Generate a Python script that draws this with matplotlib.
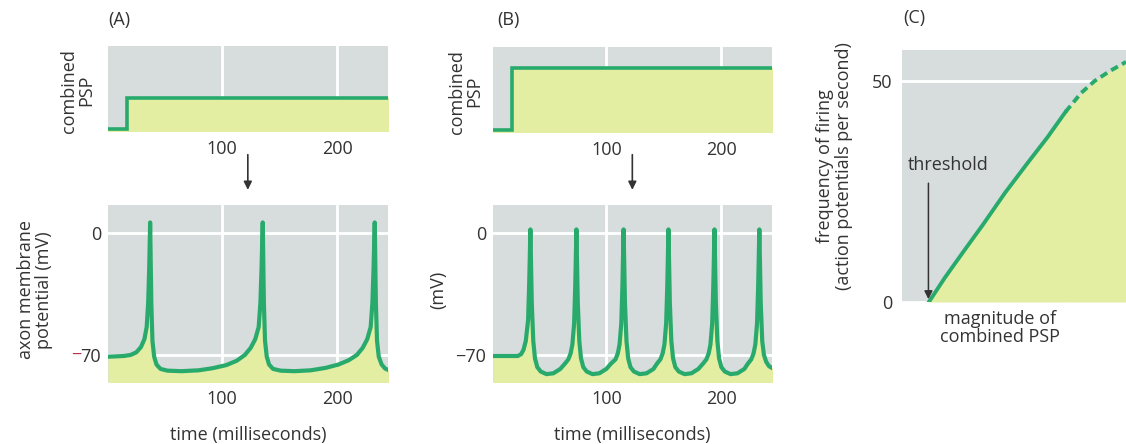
import matplotlib.pyplot as plt
from matplotlib import transforms

plt.rcParams['font.family'] = ['Open Sans', 'DejaVu Sans']

# combined PSP step (top panels)
psp_time = [1.5, 18, 18, 245]
psp_a = [0.03, 0.03, 0.40, 0.40]
psp_b = [0.03, 0.03, 0.76, 0.76]

# axon membrane potential, panel A (few spikes)
time_a = [1.5, 15, 21, 26, 30, 33, 35, 36.3, 37.2, 38, 39, 40, 41.5, 43.5, 47, 53, 65, 80,
          92, 104, 113, 120, 125, 129, 132, 133.5, 134.5, 135.5, 136.5, 137.5, 139, 141,
          144.5, 151, 163, 177, 190, 201, 210, 217, 222, 226, 229, 230.5, 231.5, 232.5,
          233.5, 234.5, 236, 238.5, 241.5, 245]
mv_a = [-71, -70.6, -70, -68.5, -65.5, -61, -54, -40, -20, 6, -40, -62, -71, -75.5, -78,
        -79, -79.3, -78.8, -77.6, -75.8, -73.3, -70, -66, -61, -54, -40, -20, 6, -40, -62,
        -71, -75.5, -78, -79, -79.3, -78.8, -77.4, -75.5, -73, -70, -66, -61, -54, -40, -20,
        6, -40, -62, -71, -75.5, -77.8, -78.8]

# axon membrane potential, panel B (more spikes)
time_b = [1.5, 23, 26, 28, 30, 32, 33, 34, 35.2, 36.5, 38, 40, 43, 48, 54, 60, 64,
          67, 69, 70.5, 72, 73, 74, 75.2, 76.5, 78, 80, 83, 88, 94, 100, 104,
          108, 110, 111.5, 113, 114, 115, 116.2, 117.5, 119, 121, 124, 129, 135, 141, 144,
          147, 149, 150.5, 152, 153, 154, 155.2, 156.5, 158, 160, 163, 168, 174, 180, 184,
          187, 189, 190.5, 192, 193, 194, 195.2, 196.5, 198, 200, 203, 208, 214, 220, 223,
          226, 228, 229.5, 231, 232, 233, 234.2, 235.5, 237, 239, 241.5, 245]
mv_b = [-70.6, -70.6, -69.5, -67, -62, -50, -28, 2, -40, -62, -72, -77, -79.5, -81, -80.5, -78, -75,
        -72.5, -69, -64, -52, -30, 2, -40, -62, -72, -77, -79.5, -81, -80.5, -78, -75,
        -72.5, -69, -64, -52, -30, 2, -40, -62, -72, -77, -79.5, -81, -80.5, -78, -75,
        -72.5, -69, -64, -52, -30, 2, -40, -62, -72, -77, -79.5, -81, -80.5, -78, -75,
        -72.5, -69, -64, -52, -30, 2, -40, -62, -72, -77, -79.5, -81, -80.5, -78, -75,
        -72.5, -69, -64, -52, -30, 2, -40, -62, -70, -74, -76.5, -77.8]

# firing frequency vs magnitude of combined PSP (panel C)
mag_solid = [12, 19, 27, 36, 46, 56, 65, 73]
freq_solid = [0, 5.4, 11.1, 17.4, 24.7, 31.4, 37.3, 43.0]
mag_dash = [73, 80, 86, 93, 100]
freq_dash = [43.0, 47.3, 50.0, 52.3, 54.3]

GREY = '#d7dcdc'
FILL = '#e3eea3'
GREEN = '#29aa6d'
TXT = '#333333'
FS = 13
W, H = 1126, 444

fig = plt.figure(figsize=(W / 100, H / 100), dpi=100)


def px_axes(x0, y0, x1, y1):
    ax = fig.add_axes([x0 / W, 1 - y1 / H, (x1 - x0) / W, (y1 - y0) / H])
    ax.set_facecolor(GREY)
    for s in ax.spines.values():
        s.set_visible(False)
    ax.tick_params(length=0, labelsize=FS, labelcolor=TXT)
    ax.set_axisbelow(True)
    return ax


def psp_panel(ax, level):
    ax.fill_between(psp_time, 0, level, color=FILL, zorder=1, lw=0)
    ax.plot(psp_time, level, color=GREEN, lw=2.6, zorder=2, solid_joinstyle='miter')
    ax.set_xlim(1.5, 244)
    ax.set_ylim(0, 1)
    ax.set_xticks([100, 200])
    ax.set_yticks([])
    ax.tick_params(axis='x', pad=6)
    ax.grid(axis='x', color='white', lw=2)
    ax.set_ylabel('combined\nPSP', fontsize=FS, color=TXT, linespacing=0.95)


def trace_panel(ax, t, v):
    ax.fill_between(t, -90, v, color=FILL, zorder=1, lw=0)
    ax.plot(t, v, color=GREEN, lw=3, zorder=2)
    ax.set_xlim(1.5, 244)
    ax.set_ylim(-85.5, 16)
    ax.set_xticks([100, 200])
    ax.set_yticks([-70, 0])
    ax.tick_params(axis='x', pad=6)
    ax.tick_params(axis='y', pad=5)
    ax.grid(color='white', lw=2)
    ax.set_xlabel('time (milliseconds)', fontsize=FS, color=TXT, labelpad=13)
    ax.annotate('', xy=(122.6, 1.07), xytext=(122.6, 1.30),
                xycoords=('data', 'axes fraction'),
                arrowprops=dict(arrowstyle='-|>', color=TXT, lw=1.2, mutation_scale=12),
                annotation_clip=False)


# panel A
ax1 = px_axes(108, 46, 388, 132)
psp_panel(ax1, psp_a)
ax1.yaxis.set_label_coords(-0.046, 0.48)
ax2 = px_axes(108, 205, 388, 382)
trace_panel(ax2, time_a, mv_a)
ax2.set_yticklabels(['70', '0'])
trans = transforms.blended_transform_factory(ax2.transAxes, ax2.transData)
ax2.text(-0.095, -70, '\u2212', transform=trans, color='#c0304a',
         fontsize=FS, ha='right', va='center')
ax2.set_ylabel('axon membrane\npotential (mV)', fontsize=FS, color=TXT, linespacing=1.0)
ax2.yaxis.set_label_coords(-0.195, 0.52)
fig.text(108 / W, 1 - 20 / H, '(A)', fontsize=FS, color=TXT, va='center')

# panel B
ax3 = px_axes(493, 47, 772, 133)
psp_panel(ax3, psp_b)
ax3.yaxis.set_label_coords(-0.036, 0.48)
ax4 = px_axes(493, 205, 772, 382)
trace_panel(ax4, time_b, mv_b)
ax4.set_yticklabels(['\u221270', '0'])
ax4.set_ylabel('(mV)', fontsize=FS, color=TXT)
ax4.yaxis.set_label_coords(-0.165, 0.52)
fig.text(497 / W, 1 - 20 / H, '(B)', fontsize=FS, color=TXT, va='center')

# panel C
ax5 = px_axes(902, 50, 1126, 302)
ax5.fill_between(mag_solid, 0, freq_solid, color=FILL, zorder=1, lw=0)
ax5.fill_between(mag_dash, 0, freq_dash, color=FILL, zorder=1, lw=0)
ax5.plot(mag_solid, freq_solid, color=GREEN, lw=2.8, zorder=2)
ax5.plot(mag_dash, freq_dash, color=GREEN, lw=2.8, zorder=2, ls=(0, (2, 1.2)))
ax5.set_xlim(0, 100)
ax5.set_ylim(0, 57)
ax5.set_xticks([])
ax5.set_yticks([0, 50])
ax5.tick_params(axis='y', pad=7)
ax5.grid(axis='y', color='white', lw=2)
ax5.set_ylabel('frequency of firing\n(action potentials per second)', fontsize=FS,
               color=TXT, linespacing=1.05)
ax5.yaxis.set_label_coords(-0.219, 0.54)
ax5.text(0.4375, -0.105, 'magnitude of\ncombined PSP', transform=ax5.transAxes,
         fontsize=FS, color=TXT, ha='center', va='center', linespacing=1.0)
ax5.text(20.5, 31, 'threshold', fontsize=FS, color=TXT, ha='center', va='center')
ax5.annotate('', xy=(11.8, 0), xytext=(11.8, 27.5),
             arrowprops=dict(arrowstyle='-|>', color=TXT, lw=1.1, mutation_scale=12),
             annotation_clip=False)
fig.text(903 / W, 1 - 18 / H, '(C)', fontsize=FS, color=TXT, va='center')

fig.savefig('out.png', dpi=100)
